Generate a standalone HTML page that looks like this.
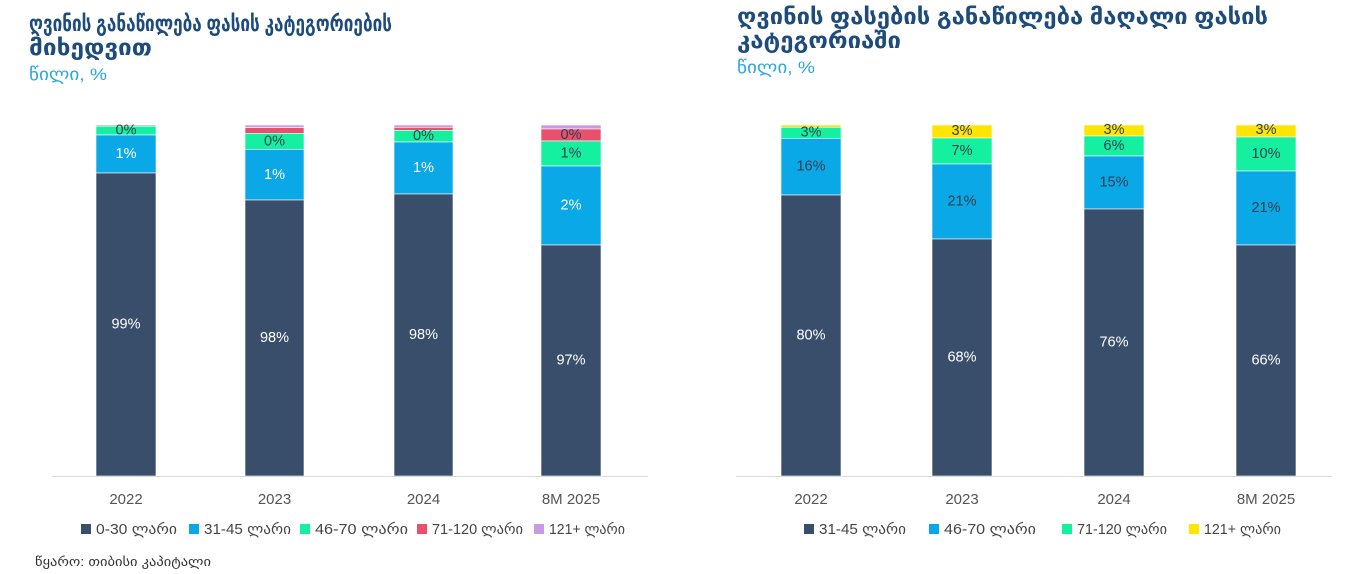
<!DOCTYPE html>
<html>
<head>
<meta charset="utf-8">
<style>
  html, body { margin:0; padding:0; background:#ffffff; }
  body { width:1369px; height:574px; overflow:hidden; }
  svg { display:block; }
  .t { font-family:"Liberation Sans","DejaVu Sans",sans-serif; font-weight:bold; font-size:22px; fill:#1d4b7b; }
  .s { font-family:"Liberation Sans","DejaVu Sans",sans-serif; font-size:17px; fill:#2aa7de; }
  .yr { font-family:"Liberation Sans","DejaVu Sans",sans-serif; font-size:15px; fill:#555555; text-anchor:middle; }
  .lg { font-family:"Liberation Sans","DejaVu Sans",sans-serif; font-size:14.5px; fill:#444444; }
  .src { font-family:"Liberation Sans","DejaVu Sans",sans-serif; font-size:13px; fill:#333333; }
  .dl { font-family:"Liberation Sans","DejaVu Sans",sans-serif; font-size:14.5px; text-anchor:middle; dominant-baseline:central; }
  .w { fill:#ffffff; }
  .d { fill:#2f3f4f; }
</style>
</head>
<body>
<svg width="1369" height="574" viewBox="0 0 1369 574" xmlns="http://www.w3.org/2000/svg">
  <!-- LEFT TITLE -->
  <text class="t" x="29" y="31" textLength="363" lengthAdjust="spacingAndGlyphs">ღვინის განაწილება ფასის კატეგორიების</text>
  <text class="t" x="29" y="55" textLength="123" lengthAdjust="spacingAndGlyphs">მიხედვით</text>
  <text class="s" x="29" y="80" textLength="78" lengthAdjust="spacingAndGlyphs">წილი, %</text>

  <!-- RIGHT TITLE -->
  <text class="t" x="737" y="24" textLength="531" lengthAdjust="spacingAndGlyphs">ღვინის ფასების განაწილება მაღალი ფასის</text>
  <text class="t" x="737" y="48" textLength="164" lengthAdjust="spacingAndGlyphs">კატეგორიაში</text>
  <text class="s" x="737" y="73" textLength="78" lengthAdjust="spacingAndGlyphs">წილი, %</text>

  <!-- LEFT CHART BARS -->
  <g stroke="#ffffff" stroke-width="0.6">
    <rect x="96" y="125" width="60" height="1.2" fill="#9a9aa8"/>
    <rect x="96" y="126.2" width="60" height="8.8" fill="#14f0a0"/>
    <rect x="96" y="135" width="60" height="38" fill="#0aa8e6"/>
    <rect x="96" y="173" width="60" height="303" fill="#394e6b"/>

    <rect x="245" y="125" width="59" height="2.7" fill="#c99ae6"/>
    <rect x="245" y="127.7" width="59" height="5.6" fill="#e8506e"/>
    <rect x="245" y="133.3" width="59" height="16" fill="#14f0a0"/>
    <rect x="245" y="149.3" width="59" height="50.7" fill="#0aa8e6"/>
    <rect x="245" y="200" width="59" height="276" fill="#394e6b"/>

    <rect x="394" y="125" width="59" height="2.3" fill="#c99ae6"/>
    <rect x="394" y="127.3" width="59" height="3" fill="#e8506e"/>
    <rect x="394" y="130.3" width="59" height="11.7" fill="#14f0a0"/>
    <rect x="394" y="142" width="59" height="52" fill="#0aa8e6"/>
    <rect x="394" y="194" width="59" height="282" fill="#394e6b"/>

    <rect x="541" y="125" width="60" height="4" fill="#c99ae6"/>
    <rect x="541" y="129" width="60" height="12" fill="#e8506e"/>
    <rect x="541" y="141" width="60" height="25" fill="#14f0a0"/>
    <rect x="541" y="166" width="60" height="79" fill="#0aa8e6"/>
    <rect x="541" y="245" width="60" height="231" fill="#394e6b"/>
  </g>
  <line x1="52" y1="476.5" x2="648" y2="476.5" stroke="#d9d9d9" stroke-width="1"/>

  <!-- LEFT LABELS -->
  <text class="dl d" x="126" y="130.5">0%</text>
  <text class="dl w" x="126" y="154">1%</text>
  <text class="dl w" x="126" y="324.5">99%</text>

  <text class="dl d" x="274.5" y="141.5">0%</text>
  <text class="dl w" x="274.5" y="175">1%</text>
  <text class="dl w" x="274.5" y="338">98%</text>

  <text class="dl d" x="423.5" y="136">0%</text>
  <text class="dl w" x="423.5" y="168">1%</text>
  <text class="dl w" x="423.5" y="335">98%</text>

  <text class="dl d" x="571" y="135">0%</text>
  <text class="dl d" x="571" y="153.5">1%</text>
  <text class="dl w" x="571" y="205.5">2%</text>
  <text class="dl w" x="571" y="360.5">97%</text>

  <!-- LEFT X LABELS -->
  <text class="yr" x="126" y="504">2022</text>
  <text class="yr" x="274.5" y="504">2023</text>
  <text class="yr" x="423.5" y="504">2024</text>
  <text class="yr" x="571" y="504">8M 2025</text>

  <!-- LEFT LEGEND -->
  <rect x="81" y="524" width="10" height="10" fill="#394e6b"/>
  <text class="lg" x="96" y="534" textLength="81" lengthAdjust="spacingAndGlyphs">0-30 ლარი</text>
  <rect x="189" y="524" width="10" height="10" fill="#0aa8e6"/>
  <text class="lg" x="204" y="534" textLength="87" lengthAdjust="spacingAndGlyphs">31-45 ლარი</text>
  <rect x="300" y="524" width="10" height="10" fill="#14f0a0"/>
  <text class="lg" x="315" y="534" textLength="93" lengthAdjust="spacingAndGlyphs">46-70 ლარი</text>
  <rect x="417" y="524" width="10" height="10" fill="#e8506e"/>
  <text class="lg" x="432" y="534" textLength="91" lengthAdjust="spacingAndGlyphs">71-120 ლარი</text>
  <rect x="534" y="524" width="10" height="10" fill="#c99ae6"/>
  <text class="lg" x="549" y="534" textLength="76" lengthAdjust="spacingAndGlyphs">121+ ლარი</text>

  <!-- SOURCE -->
  <text class="src" x="35" y="566" textLength="176" lengthAdjust="spacingAndGlyphs">წყარო: თიბისი კაპიტალი</text>

  <!-- RIGHT CHART BARS -->
  <g stroke="#ffffff" stroke-width="0.6">
    <rect x="781" y="125" width="60" height="2.3" fill="#ffe500"/>
    <rect x="781" y="127.3" width="60" height="11" fill="#14f0a0"/>
    <rect x="781" y="138.3" width="60" height="56.7" fill="#0aa8e6"/>
    <rect x="781" y="195" width="60" height="281" fill="#394e6b"/>

    <rect x="932" y="125" width="60" height="13" fill="#ffe500"/>
    <rect x="932" y="138" width="60" height="26" fill="#14f0a0"/>
    <rect x="932" y="164" width="60" height="75" fill="#0aa8e6"/>
    <rect x="932" y="239" width="60" height="237" fill="#394e6b"/>

    <rect x="1084" y="125" width="60" height="11" fill="#ffe500"/>
    <rect x="1084" y="136" width="60" height="20" fill="#14f0a0"/>
    <rect x="1084" y="156" width="60" height="53" fill="#0aa8e6"/>
    <rect x="1084" y="209" width="60" height="267" fill="#394e6b"/>

    <rect x="1236" y="125" width="60" height="12" fill="#ffe500"/>
    <rect x="1236" y="137" width="60" height="34" fill="#14f0a0"/>
    <rect x="1236" y="171" width="60" height="74" fill="#0aa8e6"/>
    <rect x="1236" y="245" width="60" height="231" fill="#394e6b"/>
  </g>
  <line x1="736" y1="476.5" x2="1332" y2="476.5" stroke="#d9d9d9" stroke-width="1"/>

  <!-- RIGHT LABELS -->
  <text class="dl d" x="811" y="132.5">3%</text>
  <text class="dl d" x="811" y="166.5">16%</text>
  <text class="dl w" x="811" y="335.5">80%</text>

  <text class="dl d" x="962" y="131">3%</text>
  <text class="dl d" x="962" y="151">7%</text>
  <text class="dl d" x="962" y="201.5">21%</text>
  <text class="dl w" x="962" y="357.5">68%</text>

  <text class="dl d" x="1114" y="130">3%</text>
  <text class="dl d" x="1114" y="146">6%</text>
  <text class="dl d" x="1114" y="182.5">15%</text>
  <text class="dl w" x="1114" y="342.5">76%</text>

  <text class="dl d" x="1266" y="130">3%</text>
  <text class="dl d" x="1266" y="154">10%</text>
  <text class="dl d" x="1266" y="208">21%</text>
  <text class="dl w" x="1266" y="360.5">66%</text>

  <!-- RIGHT X LABELS -->
  <text class="yr" x="811" y="504">2022</text>
  <text class="yr" x="962" y="504">2023</text>
  <text class="yr" x="1114" y="504">2024</text>
  <text class="yr" x="1266" y="504">8M 2025</text>

  <!-- RIGHT LEGEND -->
  <rect x="804" y="524" width="10" height="10" fill="#394e6b"/>
  <text class="lg" x="819" y="534" textLength="87" lengthAdjust="spacingAndGlyphs">31-45 ლარი</text>
  <rect x="929" y="524" width="10" height="10" fill="#0aa8e6"/>
  <text class="lg" x="944" y="534" textLength="92" lengthAdjust="spacingAndGlyphs">46-70 ლარი</text>
  <rect x="1062" y="524" width="10" height="10" fill="#14f0a0"/>
  <text class="lg" x="1077" y="534" textLength="90" lengthAdjust="spacingAndGlyphs">71-120 ლარი</text>
  <rect x="1189" y="524" width="10" height="10" fill="#ffe500"/>
  <text class="lg" x="1204" y="534" textLength="77" lengthAdjust="spacingAndGlyphs">121+ ლარი</text>
</svg>
</body>
</html>
